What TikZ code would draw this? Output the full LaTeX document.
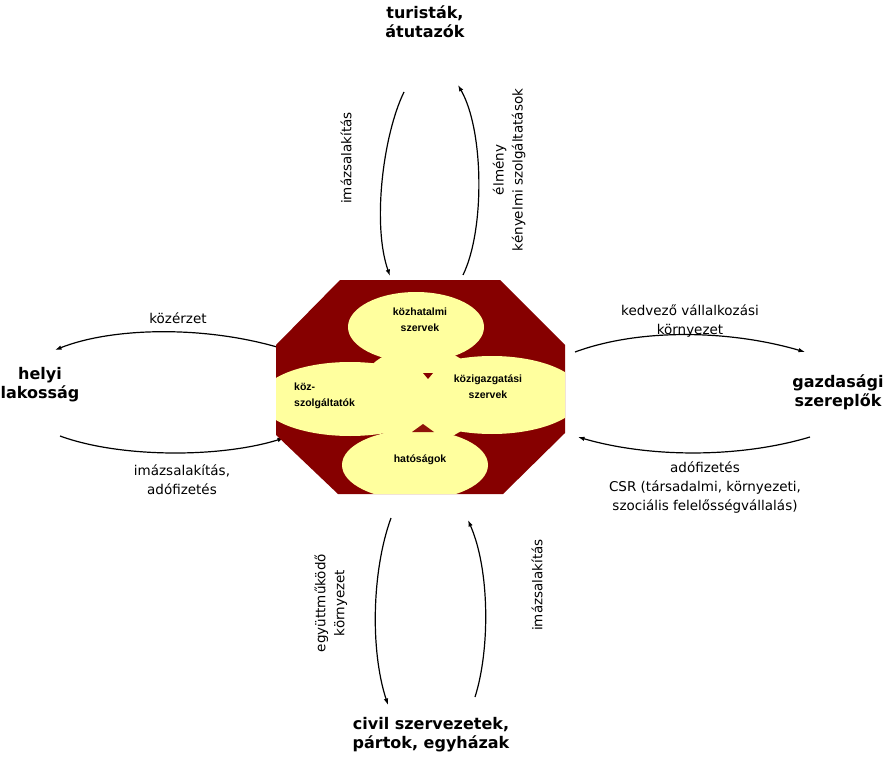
\documentclass[tikz,border=0pt]{standalone}
\usepackage{fontspec}
\setmainfont{Liberation Sans}
\newfontfamily\entfam{DejaVu Sans}
\usetikzlibrary{arrows.meta}
\definecolor{octred}{HTML}{860000}
\definecolor{blobyellow}{HTML}{FFFF9E}
\newcommand\entfont{\entfam\bfseries\fontsize{16}{19}\selectfont}
\newcommand\labfont{\entfam\fontsize{13.5}{19}\selectfont}
\newcommand\innerfont{\bfseries\fontsize{10.5}{16}\selectfont}
\tikzset{
  ent/.style={font=\entfont, align=center, inner sep=0pt},
  lab/.style={font=\labfont, align=center, inner sep=0pt},
  innerlab/.style={font=\innerfont, align=center, inner sep=0pt},
  flow/.style={line width=1.2pt, -{Latex[length=6.5pt,width=4.5pt]}},
}
\begin{document}
\begin{tikzpicture}[x=1pt,y=-1pt]
\useasboundingbox (0,0) rectangle (886,762);
\clip (0,0) rectangle (886,762);
\fill[white] (0,0) rectangle (886,762);

% endpoints
\coordinate (tLa) at (404,92);  \coordinate (tLb) at (390,276);
\coordinate (tRa) at (463,275); \coordinate (tRb) at (458,85);
\coordinate (lUa) at (277,347); \coordinate (lUb) at (55,350);
\coordinate (lLa) at (60,436);  \coordinate (lLb) at (284,438);
\coordinate (rUa) at (575,352); \coordinate (rUb) at (805,352);
\coordinate (rLa) at (810,437); \coordinate (rLb) at (578,437);
\coordinate (bLa) at (391,518); \coordinate (bLb) at (388,705);
\coordinate (bRa) at (475,697); \coordinate (bRb) at (468,520);

% connectors
\draw[flow] (tLa) .. controls (383,135) and (372,225) .. (tLb);
\draw[flow] (tRa) .. controls (485,230) and (484,130) .. (tRb);
\draw[flow] (lUa) .. controls (200,325) and (110,328) .. (lUb);
\draw[flow] (lLa) .. controls (120,458) and (220,458) .. (lLb);
\draw[flow] (rUa) .. controls (640,328) and (730,330) .. (rUb);
\draw[flow] (rLa) .. controls (740,458) and (650,458) .. (rLb);
\draw[flow] (bLa) .. controls (372,570) and (370,650) .. (bLb);
\draw[flow] (bRa) .. controls (490,650) and (490,570) .. (bRb);

% octagon
\fill[octred] (340,280) -- (500,280) -- (565,345) -- (565,433) -- (503,494)
  -- (338,494) -- (276,435) -- (276,345) -- cycle;
\begin{scope}
\clip (340,280) -- (500,280) -- (565,345) -- (565,433) -- (503,494)
  -- (338,494) -- (276,435) -- (276,345) -- cycle;
\fill[blobyellow] (416,327) ellipse [x radius=68, y radius=35];
\fill[blobyellow] (350,399) ellipse [x radius=90, y radius=37];
\fill[blobyellow] (492,395) ellipse [x radius=90, y radius=39];
\fill[blobyellow] (415,465) ellipse [x radius=73, y radius=35];
\fill[blobyellow] (420,395) ellipse [x radius=62, y radius=48];
\end{scope}
\fill[octred] (423,373) -- (433,373) -- (428,379) -- cycle;
\fill[octred!85!brown] (412,432) -- (434,432) -- (423,424) -- cycle;

% inner labels
\node[innerlab] (kh) at (420,320) {közhatalmi\\szervek};
\node[innerlab, align=left, anchor=west] (ksz) at (294,396) {köz-\\szolgáltatók};
\node[innerlab] (kig) at (488,387) {közigazgatási\\szervek};
\node[innerlab] (hat) at (420,460) {hatóságok};

% entities
\node[ent] (tur) at (425,22) {turisták,\\átutazók};
\node[ent] (hely) at (40,385) {helyi\\lakosság};
\node[ent] (gazd) at (838,392) {gazdasági\\szereplők};
\node[ent] (civ) at (431,735) {civil szervezetek,\\pártok, egyházak};

% flow labels
\node[lab, rotate=90] (l1) at (346,158) {imázsalakítás};
\node[lab, rotate=90] (l2) at (509,170) {élmény\\kényelmi szolgáltatások};
\node[lab] (l3) at (178,318) {közérzet};
\node[lab] (l4) at (182,480) {imázsalakítás,\\adófizetés};
\node[lab] (l5) at (690,321) {kedvező vállalkozási\\környezet};
\node[lab] (l6) at (705,488) {adófizetés\\CSR (társadalmi, környezeti,\\szociális felelősségvállalás)};
\node[lab, rotate=90] (l7) at (331,603) {együttműködő\\környezet};
\node[lab, rotate=90] (l8) at (537,585) {imázsalakítás};
\end{tikzpicture}
\end{document}
